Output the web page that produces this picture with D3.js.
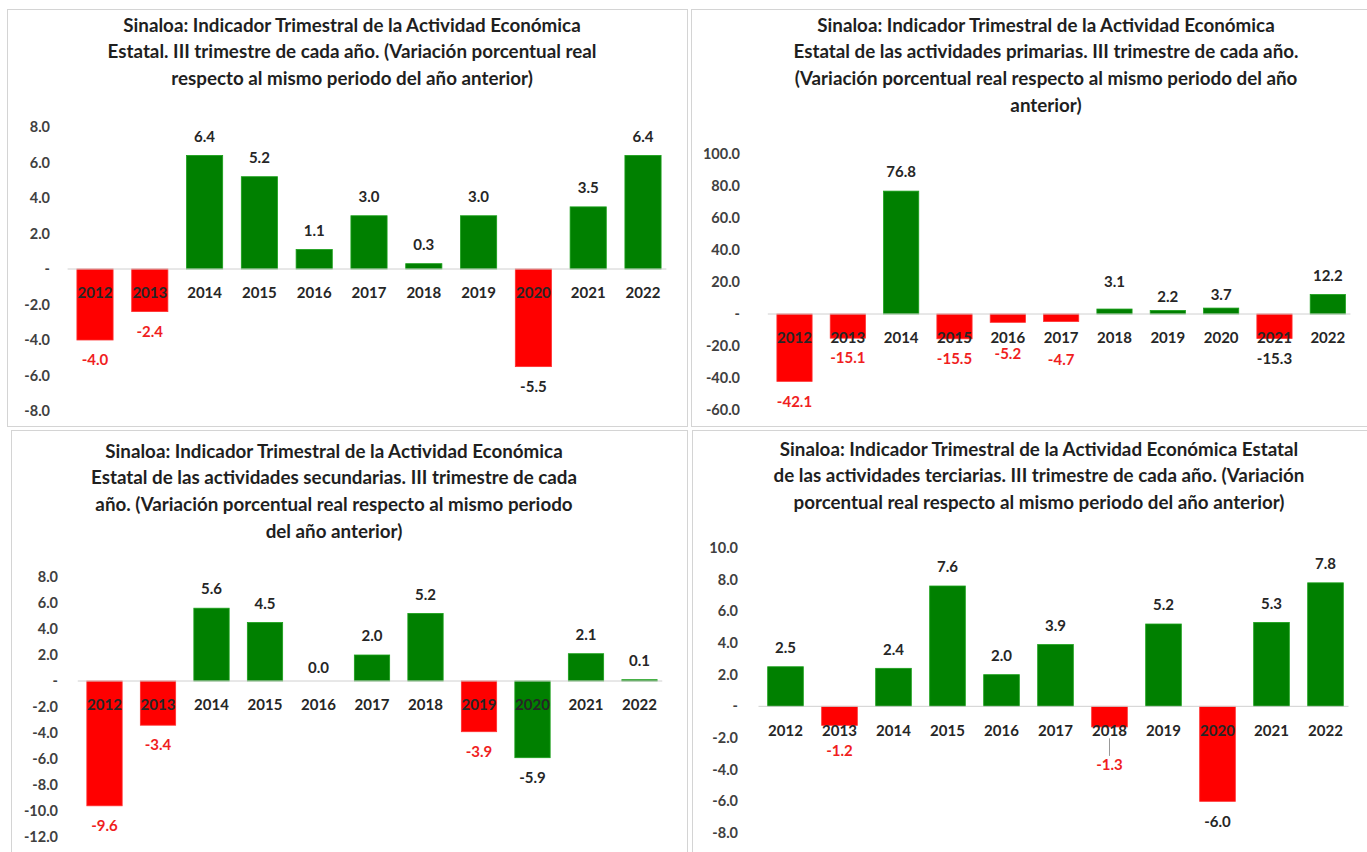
<!DOCTYPE html>
<html>
<head>
<meta charset="utf-8">
<script src="https://cdn.jsdelivr.net/npm/d3@7"></script>
<style>
  html, body { margin: 0; padding: 0; background: #ffffff; }
  svg { display: block; }
</style>
</head>
<body>
<svg id="chart" width="1367" height="852"></svg>
<script>
// ---------------- DATA ----------------
const years = ["2012","2013","2014","2015","2016","2017","2018","2019","2020","2021","2022"];

const totalValues       = [-4.0, -2.4, 6.4, 5.2, 1.1, 3.0, 0.3, 3.0, -5.5, 3.5, 6.4];
const primariasValues   = [-42.1, -15.1, 76.8, -15.5, -5.2, -4.7, 3.1, 2.2, 3.7, -15.3, 12.2];
const secundariasValues = [-9.6, -3.4, 5.6, 4.5, 0.0, 2.0, 5.2, -3.9, -5.9, 2.1, 0.1];
const terciariasValues  = [2.5, -1.2, 2.4, 7.6, 2.0, 3.9, -1.3, 5.2, -6.0, 5.3, 7.8];

// years whose bar is drawn in red / whose value label is written in red
const totalRedBars        = ["2012","2013","2020"];
const totalRedLabels      = ["2012","2013"];
const primariasRedBars    = ["2012","2013","2015","2016","2017","2021"];
const primariasRedLabels  = ["2012","2013","2015","2016","2017"];
const secundariasRedBars  = ["2012","2013","2019"];
const secundariasRedLabels= ["2012","2013","2019"];
const terciariasRedBars   = ["2013","2018","2020"];
const terciariasRedLabels = ["2013","2018"];

// tick values
const totalTicks       = [-8, -6, -4, -2, 0, 2, 4, 6, 8];
const primariasTicks   = [-60, -40, -20, 0, 20, 40, 60, 80, 100];
const secundariasTicks = [-12, -10, -8, -6, -4, -2, 0, 2, 4, 6, 8];
const terciariasTicks  = [-8, -6, -4, -2, 0, 2, 4, 6, 8, 10];

// titles
const totalTitle = [
  "Sinaloa: Indicador Trimestral de la Actividad Económica",
  "Estatal. III trimestre de cada año. (Variación porcentual real",
  "respecto al mismo periodo del año anterior)"
];
const primariasTitle = [
  "Sinaloa: Indicador Trimestral de la Actividad Económica",
  "Estatal de las actividades primarias. III trimestre de cada año.",
  "(Variación porcentual real respecto al mismo periodo del año",
  "anterior)"
];
const secundariasTitle = [
  "Sinaloa: Indicador Trimestral de la Actividad Económica",
  "Estatal de las actividades secundarias. III trimestre de cada",
  "año. (Variación porcentual real respecto al mismo periodo",
  "del año anterior)"
];
const terciariasTitle = [
  "Sinaloa: Indicador Trimestral de la Actividad Económica Estatal",
  "de las actividades terciarias. III trimestre de cada año. (Variación",
  "porcentual real respecto al mismo periodo del año anterior)"
];

// ---------------- LAYOUT ----------------
const FONT = "Lato, 'Open Sans', sans-serif";
const GREEN = "#008000", RED = "#ff0000";
const LABEL_RED = "#f01e1e", DARK = "#262626";

// manual label nudges (px) as in the original workbook
const labelNudge = {
  primarias: {"2018": -8, "2019": 5, "2020": 6, "2016": 11, "2017": 18},
  secundarias: {"2016": 6},
  terciarias: {"2013": 5, "2018": 18}
};
const leaderYears = { terciarias: ["2018"] };

const panels = [
  { key: "total", values: totalValues, redBars: totalRedBars, redLabels: totalRedLabels,
    ticks: totalTicks, title: totalTitle,
    box: [7, 9, 680, 417], titleX: 352, titleY: 25,
    c0: 95, step: 54.8, yRange: [411, 127], axisX: 50 },
  { key: "primarias", values: primariasValues, redBars: primariasRedBars, redLabels: primariasRedLabels,
    ticks: primariasTicks, title: primariasTitle,
    box: [691, 9, 690, 417], titleX: 1046, titleY: 25,
    c0: 794.5, step: 53.33, yRange: [410, 154], axisX: 740 },
  { key: "secundarias", values: secundariasValues, redBars: secundariasRedBars, redLabels: secundariasRedLabels,
    ticks: secundariasTicks, title: secundariasTitle,
    box: [11, 430, 676, 430], titleX: 334, titleY: 451,
    c0: 104.5, step: 53.5, yRange: [837, 577], axisX: 58 },
  { key: "terciarias", values: terciariasValues, redBars: terciariasRedBars, redLabels: terciariasRedLabels,
    ticks: terciariasTicks, title: terciariasTitle,
    box: [692, 430, 690, 430], titleX: 1039, titleY: 449,
    c0: 785.5, step: 54, yRange: [833, 548], axisX: 738 }
];

const svg = d3.select("#chart");
svg.append("rect").attr("width", 1367).attr("height", 852).attr("fill", "#fff");

panels.forEach(p => {
  const g = svg.append("g");
  const lastC = p.c0 + p.step * (years.length - 1);

  // panel frame
  g.append("rect")
    .attr("x", p.box[0] + 0.5).attr("y", p.box[1] + 0.5)
    .attr("width", p.box[2]).attr("height", p.box[3])
    .attr("fill", "none").attr("stroke", "#d4d4d4").attr("stroke-width", 1);

  // title
  g.append("text")
    .attr("x", p.titleX).attr("y", p.titleY)
    .attr("text-anchor", "middle")
    .attr("font-family", FONT).attr("font-weight", 700).attr("font-size", 18.8)
    .attr("fill", "#1f1f1f")
    .selectAll("tspan").data(p.title).join("tspan")
    .attr("x", p.titleX)
    .attr("dy", (d, i) => i === 0 ? "0.35em" : 26.7)
    .text(d => d);

  const x = d3.scaleBand()
    .domain(years)
    .range([p.c0 - p.step / 2, lastC + p.step / 2])
    .paddingInner(0.34).paddingOuter(0.17);

  const y = d3.scaleLinear()
    .domain([d3.min(p.ticks), d3.max(p.ticks)])
    .range(p.yRange);

  // y axis (labels only)
  const yAxis = d3.axisLeft(y)
    .tickValues(p.ticks)
    .tickSize(0)
    .tickPadding(0)
    .tickFormat(d => d === 0 ? "-" : d.toFixed(1));
  const ya = g.append("g").attr("transform", `translate(${p.axisX},0)`).call(yAxis);
  ya.select(".domain").remove();
  ya.selectAll("text")
    .attr("font-family", FONT).attr("font-weight", 700).attr("font-size", 14.5)
    .attr("fill", "#404040");

  // bars
  const data = years.map((yr, i) => ({ yr, v: p.values[i] }));
  g.selectAll(".bar").data(data).join("rect")
    .attr("class", "bar")
    .attr("x", d => x(d.yr))
    .attr("width", x.bandwidth())
    .attr("y", d => Math.min(y(d.v), y(0)))
    .attr("height", d => Math.abs(y(d.v) - y(0)))
    .attr("fill", d => p.redBars.includes(d.yr) ? RED : GREEN)
    .attr("stroke", d => p.redBars.includes(d.yr) ? "#ff3030" : "#1aa01a")
    .attr("stroke-width", 0.8);

  // zero line
  g.append("line")
    .attr("x1", x.range()[0]).attr("x2", x.range()[1] - 4)
    .attr("y1", y(0)).attr("y2", y(0))
    .attr("stroke", "#d0d0d0").attr("stroke-width", 1);

  // category labels
  const xAxis = d3.axisBottom(x).tickSize(0).tickPadding(0);
  const xa = g.append("g").attr("transform", `translate(0,${y(0) + 24})`).call(xAxis);
  xa.select(".domain").remove();
  xa.selectAll("text")
    .attr("dy", "0.35em")
    .attr("font-family", FONT).attr("font-weight", 700).attr("font-size", 15)
    .attr("fill", DARK);

  // value labels
  const nudges = labelNudge[p.key] || {};
  const leaders = leaderYears[p.key] || [];
  const labelY = d => (d.v >= 0 ? y(d.v) - 19 : y(d.v) + 20) + (nudges[d.yr] || 0);

  g.selectAll(".leader").data(data.filter(d => leaders.includes(d.yr))).join("line")
    .attr("class", "leader")
    .attr("x1", d => x(d.yr) + x.bandwidth() / 2)
    .attr("x2", d => x(d.yr) + x.bandwidth() / 2)
    .attr("y1", d => y(0) + 32)
    .attr("y2", d => labelY(d) - 9)
    .attr("stroke", "#7f7f7f").attr("stroke-width", 0.8);

  g.selectAll(".vlabel").data(data).join("text")
    .attr("class", "vlabel")
    .attr("x", d => x(d.yr) + x.bandwidth() / 2)
    .attr("y", labelY)
    .attr("dy", "0.35em")
    .attr("text-anchor", "middle")
    .attr("font-family", FONT).attr("font-weight", 700).attr("font-size", 15)
    .attr("fill", d => p.redLabels.includes(d.yr) ? LABEL_RED : DARK)
    .text(d => d.v.toFixed(1));
});
</script>
</body>
</html>
